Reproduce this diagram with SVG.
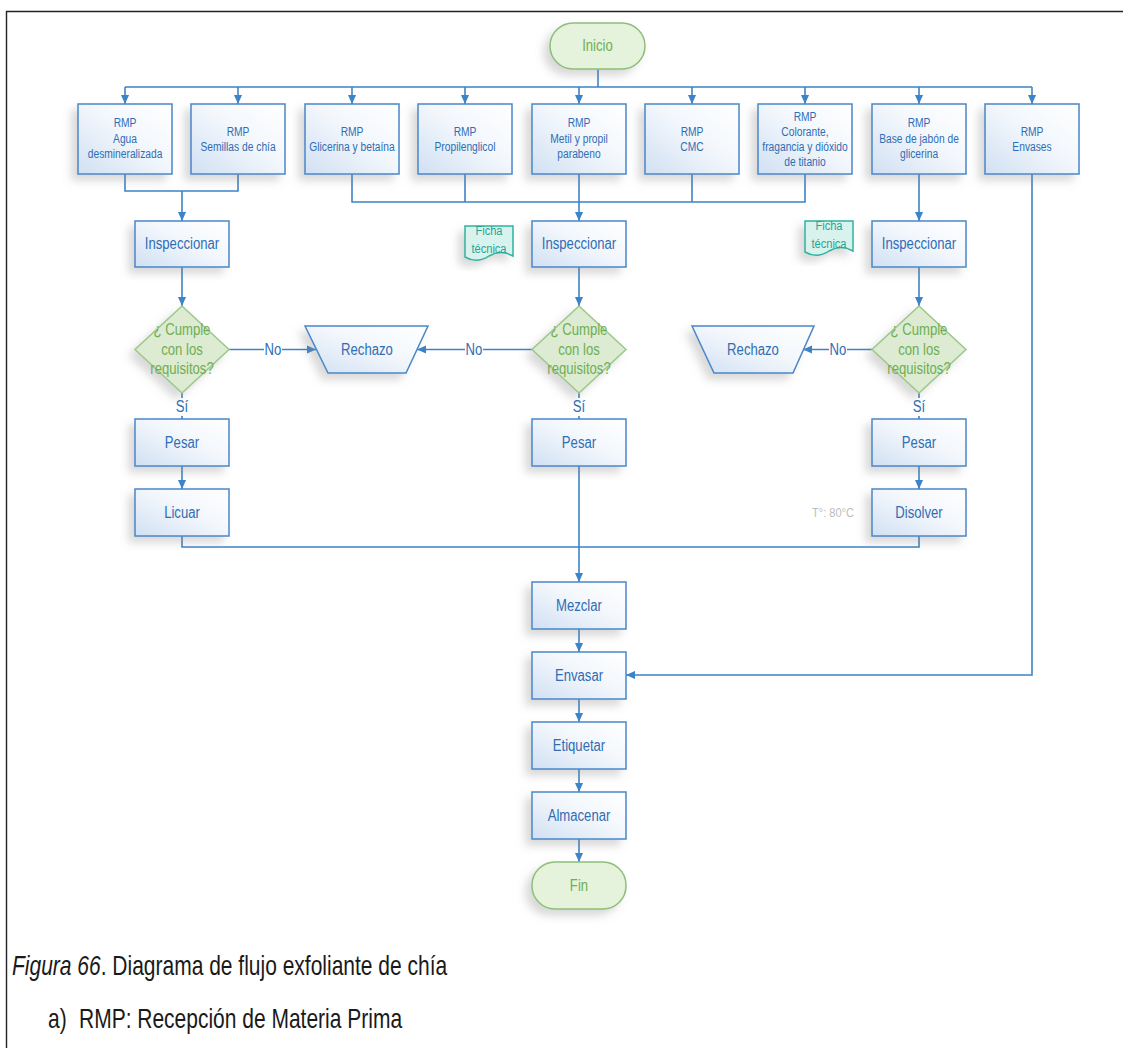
<svg xmlns="http://www.w3.org/2000/svg" width="1123" height="1048" viewBox="0 0 1123 1048">
<style>
.t{font-family:"Liberation Sans",Arial,sans-serif;text-anchor:middle;dominant-baseline:central;transform-box:fill-box;transform-origin:center;transform:scaleX(0.82)}
.bt{font-size:16px;fill:#2f6db4}
.st{font-size:12.5px;fill:#2f6db4}
.gt{font-size:16px;fill:#6fae52}
.ft{font-size:13.5px;fill:#1fa597}
.lbl{font-size:16px;fill:#2f6db4}
.box{fill:url(#gb);stroke:#4a87c9;stroke-width:1.5;filter:url(#sh)}
.dia{fill:#dcebd2;stroke:#9cc78a;stroke-width:1.5;filter:url(#sh)}
.term{fill:#e5f2dc;stroke:#8dbf79;stroke-width:1.5;filter:url(#sh)}
.doc{fill:#d8f3ed;stroke:#2fb3a0;stroke-width:1.5;filter:url(#sh)}
.c{fill:none;stroke:#3d83c8;stroke-width:1.6}
.a{marker-end:url(#ar)}
.cap{font-family:"Liberation Sans",Arial,sans-serif;font-size:28px;fill:#1a1a1a;transform-box:fill-box;transform-origin:left center;transform:scaleX(0.75)}
</style>
<defs>
<linearGradient id="gb" x1="1" y1="0" x2="0" y2="1">
<stop offset="0" stop-color="#ffffff"/>
<stop offset="0.45" stop-color="#f3f7fc"/>
<stop offset="1" stop-color="#d0e0f3"/>
</linearGradient>
<filter id="sh" x="-30%" y="-30%" width="160%" height="160%">
<feDropShadow dx="-6" dy="6" stdDeviation="4" flood-color="#808080" flood-opacity="0.3"/>
</filter>
<marker id="ar" viewBox="0 0 10 10" refX="10" refY="5" markerUnits="userSpaceOnUse" markerWidth="9" markerHeight="9" orient="auto">
<path d="M0,0.5 L10,5 L0,9.5 z" fill="#3d83c8"/>
</marker>
</defs>
<rect width="1123" height="1048" fill="#ffffff"/>
<g id="border" fill="none" stroke="#222" stroke-width="1.4">
<path d="M6.5,1048 V11.5 H1123"/>
</g>

<g id="connectors">
<path class="c" d="M598,69 V87 M125,87 H1032"/>
<path class="c a" d="M125,87 V104"/>
<path class="c a" d="M238,87 V104"/>
<path class="c a" d="M352,87 V104"/>
<path class="c a" d="M465,87 V104"/>
<path class="c a" d="M579,87 V104"/>
<path class="c a" d="M692,87 V104"/>
<path class="c a" d="M805,87 V104"/>
<path class="c a" d="M919,87 V104"/>
<path class="c a" d="M1032,87 V104"/>
<path class="c" d="M125,174 V191 H238 V174"/>
<path class="c a" d="M182,191 V221"/>
<path class="c" d="M352,174 V202 H805 V174 M465,174 V202 M692,174 V202"/>
<path class="c a" d="M579,174 V221"/>
<path class="c a" d="M919,174 V221"/>
<path class="c a" d="M1032,174 V675 H626"/>
<path class="c a" d="M182,267 V306"/>
<path class="c a" d="M579,267 V306"/>
<path class="c a" d="M919,267 V306"/>
<path class="c a" d="M229,349.5 H316"/>
<path class="c a" d="M532,349.5 H417"/>
<path class="c a" d="M872,349.5 H803"/>
<path class="c" d="M182,393 V419"/>
<path class="c" d="M579,393 V419"/>
<path class="c" d="M919,393 V419"/>
<path class="c a" d="M182,466 V489"/>
<path class="c a" d="M919,466 V489"/>
<path class="c" d="M182,536 V547 H919 V536"/>
<path class="c a" d="M579,466 V582"/>
<path class="c a" d="M579,629 V652"/>
<path class="c a" d="M579,699 V722"/>
<path class="c a" d="M579,769 V792"/>
<path class="c a" d="M579,839 V862"/>
<rect x="264" y="340" width="18" height="19" fill="#fff"/>
<rect x="465" y="340" width="18" height="19" fill="#fff"/>
<rect x="829" y="340" width="18" height="19" fill="#fff"/>
<rect x="174" y="398" width="16" height="18" fill="#fff"/>
<rect x="571" y="398" width="16" height="18" fill="#fff"/>
<rect x="911" y="398" width="16" height="18" fill="#fff"/>
<text class="t lbl" x="273" y="349.5">No</text>
<text class="t lbl" x="474" y="349.5">No</text>
<text class="t lbl" x="838" y="349.5">No</text>
<text class="t lbl" x="182" y="407">Sí</text>
<text class="t lbl" x="579" y="407">Sí</text>
<text class="t lbl" x="919" y="407">Sí</text>
</g>

<g id="inicio"><rect class="term" x="550" y="23" width="95" height="46" rx="23"/><text class="t gt" x="597.5" y="46">Inicio</text></g>

<g id="rmp-agua"><rect class="box" x="78" y="104" width="94" height="70"/><text class="t st" x="125" y="123">RMP</text><text class="t st" x="125" y="138.5">Agua</text><text class="t st" x="125" y="154">desmineralizada</text></g>
<g id="rmp-semillas"><rect class="box" x="191" y="104" width="94" height="70"/><text class="t st" x="238" y="131.5">RMP</text><text class="t st" x="238" y="147">Semillas de chía</text></g>
<g id="rmp-glicerina"><rect class="box" x="305" y="104" width="94" height="70"/><text class="t st" x="352" y="131.5">RMP</text><text class="t st" x="352" y="147">Glicerina y betaína</text></g>
<g id="rmp-propilenglicol"><rect class="box" x="418" y="104" width="94" height="70"/><text class="t st" x="465" y="131.5">RMP</text><text class="t st" x="465" y="147">Propilenglicol</text></g>
<g id="rmp-metil"><rect class="box" x="532" y="104" width="94" height="70"/><text class="t st" x="579" y="123">RMP</text><text class="t st" x="579" y="138.5">Metil y propil</text><text class="t st" x="579" y="154">parabeno</text></g>
<g id="rmp-cmc"><rect class="box" x="645" y="104" width="94" height="70"/><text class="t st" x="692" y="131.5">RMP</text><text class="t st" x="692" y="147">CMC</text></g>
<g id="rmp-colorante"><rect class="box" x="758" y="104" width="94" height="70"/><text class="t st" x="805" y="117">RMP</text><text class="t st" x="805" y="132">Colorante,</text><text class="t st" x="805" y="147">fragancia y dióxido</text><text class="t st" x="805" y="162">de titanio</text></g>
<g id="rmp-base"><rect class="box" x="872" y="104" width="94" height="70"/><text class="t st" x="919" y="123">RMP</text><text class="t st" x="919" y="138.5">Base de jabón de</text><text class="t st" x="919" y="154">glicerina</text></g>
<g id="rmp-envases"><rect class="box" x="985" y="104" width="94" height="70"/><text class="t st" x="1032" y="131.5">RMP</text><text class="t st" x="1032" y="147">Envases</text></g>

<g id="ficha-1"><path class="doc" d="M465,226 H513 V256 Q501,249 489,256 Q477,264 465,257 Z"/><text class="t ft" x="489" y="231">Ficha</text><text class="t ft" x="489" y="249">técnica</text></g>
<g id="ficha-2"><path class="doc" d="M805,221 H853 V251 Q841,244 829,251 Q817,259 805,252 Z"/><text class="t ft" x="829" y="226">Ficha</text><text class="t ft" x="829" y="244">técnica</text></g>

<g id="insp-1"><rect class="box" x="135" y="221" width="94" height="46"/><text class="t bt" x="182" y="244">Inspeccionar</text></g>
<g id="insp-2"><rect class="box" x="532" y="221" width="94" height="46"/><text class="t bt" x="579" y="244">Inspeccionar</text></g>
<g id="insp-3"><rect class="box" x="872" y="221" width="94" height="46"/><text class="t bt" x="919" y="244">Inspeccionar</text></g>

<g id="dec-1"><path class="dia" d="M182,306 L229,349.5 L182,393 L135,349.5 Z"/><text class="t gt" x="182" y="330">¿ Cumple</text><text class="t gt" x="182" y="349.5">con los</text><text class="t gt" x="182" y="369">requisitos?</text></g>
<g id="dec-2"><path class="dia" d="M579,306 L626,349.5 L579,393 L532,349.5 Z"/><text class="t gt" x="579" y="330">¿ Cumple</text><text class="t gt" x="579" y="349.5">con los</text><text class="t gt" x="579" y="369">requisitos?</text></g>
<g id="dec-3"><path class="dia" d="M919,306 L966,349.5 L919,393 L872,349.5 Z"/><text class="t gt" x="919" y="330">¿ Cumple</text><text class="t gt" x="919" y="349.5">con los</text><text class="t gt" x="919" y="369">requisitos?</text></g>

<g id="rechazo-1"><path class="box" d="M305,326 H428 L406,373 H328 Z"/><text class="t bt" x="367" y="349.5">Rechazo</text></g>
<g id="rechazo-2"><path class="box" d="M692,326 H814 L793,373 H714 Z"/><text class="t bt" x="753" y="349.5">Rechazo</text></g>

<g id="pesar-1"><rect class="box" x="135" y="419" width="94" height="47"/><text class="t bt" x="182" y="442.5">Pesar</text></g>
<g id="pesar-2"><rect class="box" x="532" y="419" width="94" height="47"/><text class="t bt" x="579" y="442.5">Pesar</text></g>
<g id="pesar-3"><rect class="box" x="872" y="419" width="94" height="47"/><text class="t bt" x="919" y="442.5">Pesar</text></g>
<g id="licuar"><rect class="box" x="135" y="489" width="94" height="47"/><text class="t bt" x="182" y="512.5">Licuar</text></g>
<g id="disolver"><rect class="box" x="872" y="489" width="94" height="47"/><text class="t bt" x="919" y="512.5">Disolver</text></g>
<g id="temp"><text class="t" x="833" y="512.5" style="font-size:13.5px;fill:#bdbdbd">T°: 80°C</text></g>

<g id="mezclar"><rect class="box" x="532" y="582" width="94" height="47"/><text class="t bt" x="579" y="605.5">Mezclar</text></g>
<g id="envasar"><rect class="box" x="532" y="652" width="94" height="47"/><text class="t bt" x="579" y="675.5">Envasar</text></g>
<g id="etiquetar"><rect class="box" x="532" y="722" width="94" height="47"/><text class="t bt" x="579" y="745.5">Etiquetar</text></g>
<g id="almacenar"><rect class="box" x="532" y="792" width="94" height="47"/><text class="t bt" x="579" y="815.5">Almacenar</text></g>
<g id="fin"><rect class="term" x="532" y="862" width="94" height="47" rx="23"/><text class="t gt" x="579" y="885.5">Fin</text></g>

<g id="caption">
<text class="cap" x="12" y="975"><tspan font-style="italic">Figura 66</tspan>. Diagrama de flujo exfoliante de chía</text>
<text class="cap" x="48" y="1028">a)</text>
<text class="cap" x="79" y="1028">RMP: Recepción de Materia Prima</text>
</g>
</svg>
